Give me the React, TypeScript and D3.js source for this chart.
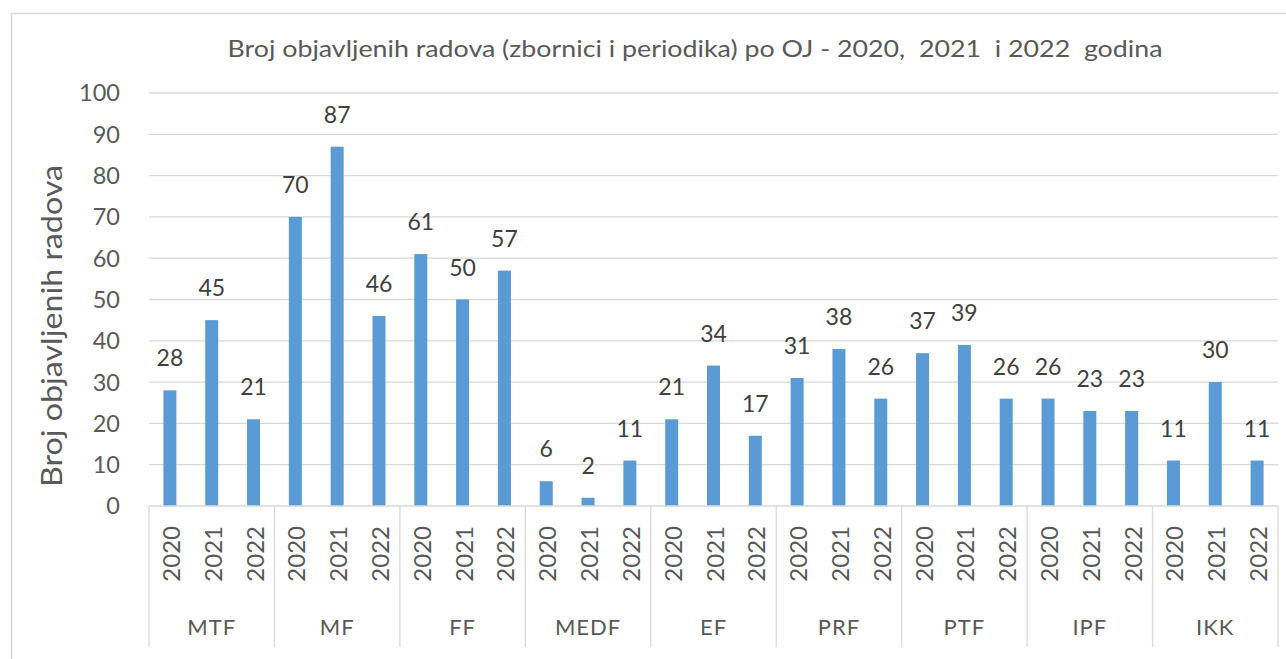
import React from "react";
import * as d3 from "d3";

const groups = ["MTF", "MF", "FF", "MEDF", "EF", "PRF", "PTF", "IPF", "IKK"];
const years = ["2020", "2021", "2022"];
const v2020 = [28, 70, 61, 6, 21, 31, 37, 26, 11];
const v2021 = [45, 87, 50, 2, 34, 38, 39, 23, 30];
const v2022 = [21, 46, 57, 11, 17, 26, 26, 23, 11];
const yTicks = [0, 10, 20, 30, 40, 50, 60, 70, 80, 90, 100];
const title = "Broj objavljenih radova (zbornici i periodika) po OJ - 2020,  2021  i 2022  godina";
const yTitle = "Broj objavljenih radova";

const W = 1286;
const H = 659;
const left = 149;
const right = 1278;
const top = 93;
const bottom = 506;
const FONT = "Lato, 'Open Sans', sans-serif";
const TXT = "#595959";

export default function App() {
  const series = [v2020, v2021, v2022];
  const x0 = d3.scaleBand<string>().domain(groups).range([left, right]).paddingInner(0).paddingOuter(0);
  const x1 = d3.scaleBand<string>().domain(years).range([0, x0.bandwidth()]);
  const y = d3.scaleLinear().domain([0, 100]).range([bottom, top]);
  const barW = 13;

  const bars: { g: string; yr: string; v: number }[] = [];
  groups.forEach((g, gi) => {
    years.forEach((yr, yi) => {
      bars.push({ g, yr, v: series[yi][gi] });
    });
  });

  return (
    <svg
      width={W}
      height={H}
      style={{ position: "absolute", left: 0, top: 0, background: "#fff" }}
      fontFamily={FONT}
    >
      <rect x={11.5} y={13.5} width={W} height={H} fill="#fff" stroke="#d9d9d9" strokeWidth={1.5} />
      <text
        x={695}
        y={57}
        textAnchor="middle"
        fontSize={24}
        fill={TXT}
        textLength={935}
        lengthAdjust="spacingAndGlyphs"
        style={{ whiteSpace: "pre" }}
      >
        {title}
      </text>
      {yTicks.map((t) => (
        <g key={t}>
          {t > 0 && (
            <line x1={left} x2={right} y1={y(t)} y2={y(t)} stroke="#d9d9d9" strokeWidth={1.3} />
          )}
          <text x={120} y={y(t)} dy="0.36em" textAnchor="end" fontSize={23.5} fill={TXT}>
            {t}
          </text>
        </g>
      ))}
      <text
        transform={`translate(62,${326}) rotate(-90)`}
        textAnchor="middle"
        fontSize={28}
        fill={TXT}
        textLength={322}
        lengthAdjust="spacingAndGlyphs"
      >
        {yTitle}
      </text>
      {bars.map((b, i) => {
        const cx = (x0(b.g) as number) + (x1(b.yr) as number) + x1.bandwidth() / 2;
        return (
          <g key={i}>
            <rect x={cx - barW / 2} y={y(b.v)} width={barW} height={bottom - y(b.v)} fill="#5B9BD5" />
            <text x={cx} y={y(b.v) - 24} textAnchor="middle" fontSize={23} fill="#404040">
              {b.v}
            </text>
            <text
              transform={`translate(${cx + 10},${526}) rotate(-90)`}
              textAnchor="end"
              fontSize={24}
              fill={TXT}
            >
              {b.yr}
            </text>
          </g>
        );
      })}
      <line x1={left} x2={right} y1={bottom} y2={bottom} stroke="#d9d9d9" strokeWidth={1.3} />
      {[...groups.map((g) => x0(g) as number), right].map((xv, i) => (
        <line key={i} x1={xv} x2={xv} y1={bottom} y2={647} stroke="#d9d9d9" strokeWidth={1.3} />
      ))}
      {groups.map((g) => (
        <text
          key={g}
          x={(x0(g) as number) + x0.bandwidth() / 2}
          y={627}
          dy="0.36em"
          textAnchor="middle"
          fontSize={22}
          fill={TXT}
          letterSpacing={1}
        >
          {g}
        </text>
      ))}
    </svg>
  );
}
